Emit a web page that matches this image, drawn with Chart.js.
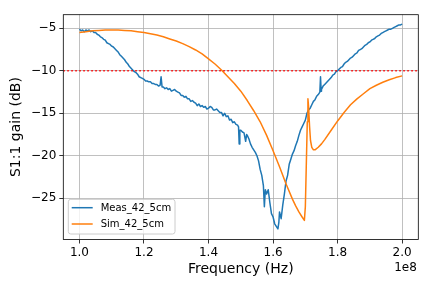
<!DOCTYPE html>
<html><head><meta charset="utf-8">
<script src="https://cdn.jsdelivr.net/npm/chart.js@4/dist/chart.umd.min.js"></script>
<style>html,body{margin:0;padding:0;background:#fff;overflow:hidden}#wrap{width:432px;height:288px}</style>
</head><body><div id="wrap"><canvas id="c" width="432" height="288"></canvas></div>
<script>
// Frequency in units of 1e8 Hz, gain in dB
const seriesLabels = ['Meas_42_5cm', 'Sim_42_5cm'];
const measFreq = [
1.000,1.005,1.010,1.015,1.020,1.025,1.030,1.035,1.040,1.045,
1.050,1.055,1.060,1.065,1.070,1.075,1.080,1.085,1.090,1.095,
1.100,1.105,1.110,1.115,1.120,1.125,1.130,1.135,1.140,1.145,
1.150,1.155,1.160,1.165,1.170,1.175,1.180,1.185,1.190,1.195,
1.200,1.205,1.210,1.215,1.220,1.225,1.230,1.235,1.240,1.245,
1.250,1.253,1.256,1.260,1.265,1.270,1.275,1.280,1.285,1.290,
1.295,1.300,1.305,1.310,1.315,1.320,1.325,1.330,1.335,1.340,
1.345,1.350,1.355,1.360,1.365,1.370,1.375,1.380,1.385,1.390,
1.395,1.400,1.405,1.410,1.415,1.420,1.425,1.430,1.435,1.440,
1.445,1.450,1.455,1.460,1.465,1.470,1.475,1.480,1.485,1.490,
1.493,1.495,1.497,1.500,1.505,1.510,1.515,1.518,1.520,1.525,
1.530,1.535,1.540,1.545,1.550,1.555,1.560,1.565,1.570,1.573,
1.576,1.580,1.585,1.590,1.595,1.600,1.605,1.610,1.615,1.618,
1.620,1.625,1.630,1.635,1.640,1.645,1.650,1.655,1.660,1.665,
1.670,1.675,1.680,1.685,1.690,1.695,1.700,1.705,1.710,1.715,
1.720,1.725,1.730,1.735,1.740,1.745,1.747,1.749,1.750,1.755,
1.760,1.765,1.770,1.775,1.780,1.785,1.790,1.795,1.800,1.805,
1.810,1.815,1.820,1.825,1.830,1.835,1.840,1.845,1.850,1.855,
1.860,1.865,1.870,1.875,1.880,1.885,1.890,1.895,1.900,1.905,
1.910,1.915,1.920,1.925,1.930,1.935,1.940,1.945,1.950,1.955,
1.960,1.965,1.970,1.975,1.980,1.985,1.990,1.995,2.000];
const measGain = [
-5.1,-5.3,-5.2,-5.4,-5.2,-5.3,-5.2,-5.4,-5.3,-5.5,
-5.5,-5.7,-5.8,-6.0,-6.1,-6.3,-6.4,-6.7,-6.8,-6.9,
-7.1,-7.2,-7.4,-7.6,-7.8,-8.1,-8.3,-8.5,-8.7,-9.0,
-9.2,-9.5,-9.7,-9.9,-10.1,-10.2,-10.4,-10.7,-10.8,-10.9,
-11.0,-11.2,-11.2,-11.3,-11.3,-11.5,-11.5,-11.6,-11.6,-11.8,
-11.7,-10.7,-11.9,-11.9,-12.1,-12.0,-12.2,-12.1,-12.4,-12.3,
-12.2,-12.4,-12.5,-12.6,-12.9,-12.9,-13.1,-13.0,-13.3,-13.3,
-13.6,-13.5,-13.7,-13.8,-14.1,-13.9,-14.2,-14.1,-14.3,-14.2,
-14.5,-14.4,-14.2,-14.3,-14.6,-14.6,-14.5,-14.7,-14.9,-14.9,
-15.3,-15.0,-15.4,-15.3,-15.8,-15.7,-16.1,-16.0,-16.3,-16.4,
-16.6,-18.6,-17.0,-17.0,-17.2,-17.3,-18.3,-17.5,-17.6,-18.0,
-18.6,-19.0,-19.3,-19.6,-20.0,-20.6,-21.6,-22.3,-23.5,-26.0,
-24.0,-24.5,-24.0,-25.5,-26.8,-27.2,-28.0,-28.3,-28.6,-27.8,
-26.6,-27.4,-25.8,-24.5,-23.0,-22.3,-21.0,-20.4,-19.8,-19.4,
-18.8,-18.3,-17.6,-17.0,-16.6,-16.2,-15.8,-15.0,-14.6,-14.4,
-14.0,-13.6,-13.4,-13.0,-12.8,-12.5,-10.7,-12.4,-12.2,-11.8,
-11.6,-11.4,-11.2,-11.0,-10.8,-10.5,-10.4,-10.1,-10.0,-9.8,
-9.6,-9.5,-9.2,-9.0,-8.9,-8.7,-8.5,-8.4,-8.2,-8.0,
-7.9,-7.6,-7.5,-7.4,-7.2,-7.0,-6.9,-6.7,-6.6,-6.4,
-6.3,-6.2,-6.0,-5.9,-5.8,-5.6,-5.5,-5.4,-5.3,-5.2,
-5.1,-5.1,-5.0,-4.9,-4.8,-4.7,-4.6,-4.6,-4.5];
const simFreq = [
1.00,1.02,1.04,1.06,1.08,1.10,1.12,1.14,1.16,1.18,
1.20,1.22,1.24,1.26,1.28,1.30,1.32,1.34,1.36,1.38,
1.40,1.42,1.44,1.46,1.48,1.50,1.52,1.54,1.56,1.58,
1.60,1.62,1.64,1.66,1.67,1.68,1.69,1.697,
1.700,1.703,1.706,1.708,1.710,1.713,1.716,
1.72,1.725,1.73,1.74,1.75,1.76,
1.78,1.80,1.82,1.84,1.86,1.88,1.90,1.92,1.94,1.96,1.98,2.00];
const simGain = [
-5.5,-5.4,-5.3,-5.25,-5.2,-5.2,-5.2,-5.25,-5.3,-5.4,
-5.5,-5.65,-5.8,-6.0,-6.25,-6.5,-6.8,-7.15,-7.55,-8.0,
-8.6,-9.2,-9.9,-10.7,-11.5,-12.4,-13.5,-14.7,-16.0,-17.6,
-19.4,-21.3,-23.3,-25.1,-25.9,-26.6,-27.2,-27.6,
-26.0,-21.0,-16.0,-13.3,-14.2,-16.5,-18.2,
-19.0,-19.3,-19.3,-19.0,-18.6,-18.1,
-17.0,-15.9,-14.9,-14.0,-13.3,-12.7,-12.1,-11.7,-11.35,-11.05,-10.8,-10.6];
const threshold = [-10];
const xTicks = [1.0, 1.2, 1.4, 1.6, 1.8, 2.0];
const yTicks = [-25, -20, -15, -10, -5];
const xLim = [0.95, 2.05];
const yLim = [-29.85, -3.4];
const xOffsetText = '1e8';

const FONT = '"DejaVu Sans", "Liberation Sans", sans-serif';
const toXY = (fs, gs) => fs.map((f, i) => ({x: f, y: gs[i]}));

const extras = {
  id: 'extras',
  afterDraw(chart) {
    const {ctx, chartArea: a} = chart;
    ctx.save();
    // frame (all four spines)
    ctx.strokeStyle = '#000';
    ctx.lineWidth = 0.8;
    ctx.strokeRect(a.left, a.top, a.right - a.left, a.bottom - a.top);
    // offset text
    ctx.fillStyle = '#000';
    ctx.font = '12px ' + FONT;
    ctx.textAlign = 'right';
    ctx.textBaseline = 'middle';
    ctx.fillText(xOffsetText, a.right - 1.5, 267.5);
    // legend (lower left, inside axes)
    const bx = a.left + 5, by = a.bottom - 40.2, bw = 106.7, bh = 34.7, r = 2.5;
    ctx.beginPath();
    ctx.moveTo(bx + r, by);
    ctx.lineTo(bx + bw - r, by);
    ctx.quadraticCurveTo(bx + bw, by, bx + bw, by + r);
    ctx.lineTo(bx + bw, by + bh - r);
    ctx.quadraticCurveTo(bx + bw, by + bh, bx + bw - r, by + bh);
    ctx.lineTo(bx + r, by + bh);
    ctx.quadraticCurveTo(bx, by + bh, bx, by + bh - r);
    ctx.lineTo(bx, by + r);
    ctx.quadraticCurveTo(bx, by, bx + r, by);
    ctx.closePath();
    ctx.fillStyle = 'rgba(255,255,255,0.8)';
    ctx.fill();
    ctx.strokeStyle = '#cccccc';
    ctx.lineWidth = 1;
    ctx.stroke();
    seriesLabels.forEach((lbl, i) => {
      const d = chart.data.datasets.find(s => s.label === lbl);
      const yy = by + 8.4 + i * 16.3;
      ctx.beginPath();
      ctx.strokeStyle = d.borderColor;
      ctx.lineWidth = 1.5;
      ctx.moveTo(bx + 3.4, yy);
      ctx.lineTo(bx + 24.4, yy);
      ctx.stroke();
      ctx.fillStyle = '#000';
      ctx.font = '10px ' + FONT;
      ctx.textAlign = 'left';
      ctx.textBaseline = 'middle';
      ctx.fillText(lbl, bx + 32.4, yy + 0.5);
    });
    ctx.restore();
  }
};

new Chart(document.getElementById('c'), {
  type: 'line',
  data: {
    datasets: [
      {label: 'threshold', data: [{x: xLim[0], y: threshold[0]}, {x: xLim[1], y: threshold[0]}],
       borderColor: '#ff0000', borderWidth: 1.5, borderDash: [1.5, 2.5], borderCapStyle: 'butt', order: 0},
      {label: seriesLabels[1], data: toXY(simFreq, simGain), borderColor: '#ff7f0e', borderWidth: 1.5, order: 1},
      {label: seriesLabels[0], data: toXY(measFreq, measGain), borderColor: '#1f77b4', borderWidth: 1.5, order: 2}
    ]
  },
  options: {
    responsive: false,
    devicePixelRatio: 1,
    animation: false,
    events: [],
    layout: {padding: {left: 0, right: 13.7, top: 14.7, bottom: 0}},
    elements: {point: {radius: 0}, line: {tension: 0, fill: false, borderJoinStyle: 'round'}},
    plugins: {legend: {display: false}, tooltip: {enabled: false}},
    scales: {
      x: {
        type: 'linear', min: xLim[0], max: xLim[1],
        afterBuildTicks: s => { s.ticks = xTicks.map(v => ({value: v})); },
        afterFit: s => { s.height = 48.5; },
        ticks: {callback: v => Number(v).toFixed(1), font: {family: FONT, size: 12}, color: '#000',
                padding: 2, maxRotation: 0, autoSkip: false},
        grid: {color: '#b0b0b0', lineWidth: 0.8, tickColor: '#000', tickLength: 4, tickWidth: 0.8},
        border: {display: false},
        title: {display: true, text: 'Frequency (Hz)', font: {family: FONT, size: 14}, color: '#000',
                padding: {top: 0, bottom: 10}}
      },
      y: {
        type: 'linear', min: yLim[0], max: yLim[1],
        afterBuildTicks: s => { s.ticks = yTicks.map(v => ({value: v})); },
        afterFit: s => { s.width = 63.3; },
        ticks: {callback: v => String(v).replace('-', '\u2212'), font: {family: FONT, size: 12}, color: '#000',
                padding: 3, autoSkip: false},
        grid: {color: '#b0b0b0', lineWidth: 0.8, tickColor: '#000', tickLength: 4, tickWidth: 0.8},
        border: {display: false},
        title: {display: true, text: 'S1:1 gain (dB)', font: {family: FONT, size: 14}, color: '#000',
                padding: {top: 7.6, bottom: 0}}
      }
    }
  },
  plugins: [extras]
});
</script>
</body></html>
